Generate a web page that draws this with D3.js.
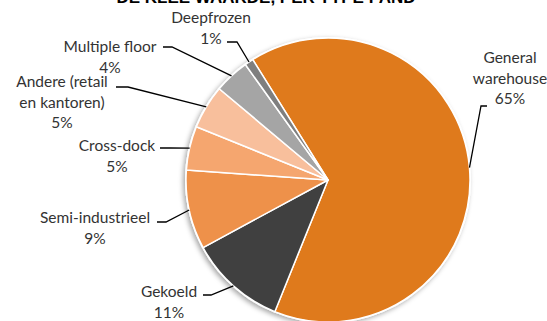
<!DOCTYPE html>
<html>
<head>
<meta charset="utf-8">
<script src="https://cdn.jsdelivr.net/npm/d3@7"></script>
<style>
    html, body { margin: 0; padding: 0; background: #fff; }
    svg { display: block; font-family: Lato, "Open Sans", sans-serif; }
</style>
</head>
<body>
<svg width="547" height="321"></svg>
<script>
// slices, clockwise from the first one
const categories = ["General warehouse", "Gekoeld", "Semi-industrieel", "Cross-dock",
    "Andere (retail en kantoren)", "Multiple floor", "Deepfrozen"];
const values = [65, 11, 9, 5, 5, 4, 1];
const labelLines = [
    ["General", "warehouse", "65%"],
    ["Gekoeld", "11%"],
    ["Semi-industrieel", "9%"],
    ["Cross-dock", "5%"],
    ["Andere (retail", "en kantoren)", "5%"],
    ["Multiple floor", "4%"],
    ["Deepfrozen", "1%"]
];
const colors = ["#DF7A1C", "#404040", "#EE914A", "#F5A66F", "#F8BF9C", "#A5A5A5", "#7F7F7F"];

const svg = d3.select("svg"),
    width = +svg.attr("width"),
    height = +svg.attr("height");

const cx = 328, cy = 180, radius = 142;
const startDeg = -32;
const lineGap = 20.5;

// label layout: text centre (x, first line y), leader start and elbow
const labelLayout = [
    {x: 510, y: 63, elbow: [481, 106], start: [487, 106]},
    {x: 169, y: 297, elbow: [211, 295], start: [203, 295]},
    {x: 95, y: 223, elbow: [166, 222], start: [157, 222]},
    {x: 117, y: 151, elbow: [170, 148], start: [160, 148]},
    {x: 62, y: 87, elbow: [128, 87], start: [116, 87]},
    {x: 110, y: 52, elbow: [172, 47], start: [163, 47]},
    {x: 211, y: 23, elbow: [237, 42], start: [227, 42]}
];

// title, mostly outside the window like in the original
svg.append("text")
    .attr("x", 266)
    .attr("y", 3)
    .attr("text-anchor", "middle")
    .style("font-family", "'Liberation Sans', Arial, sans-serif")
    .style("font-weight", "bold")
    .style("font-size", "17px")
    .style("fill", "#000")
    .text("DE KLEE WAARDE, PER TYPE PAND");

const defs = svg.append("defs");
const shadow = defs.append("filter").attr("id", "shadow")
    .attr("x", "-20%").attr("y", "-20%").attr("width", "140%").attr("height", "140%");
shadow.append("feDropShadow")
    .attr("dx", -2).attr("dy", 2).attr("stdDeviation", 2.5)
    .attr("flood-color", "#000").attr("flood-opacity", 0.35);

const pie = d3.pie()
    .sort(null)
    .value(d => d)
    .startAngle(startDeg * Math.PI / 180)
    .endAngle((startDeg + 360) * Math.PI / 180);

const arc = d3.arc().innerRadius(0).outerRadius(radius);
const arcs = pie(values);

const g = svg.append("g").attr("transform", `translate(${cx},${cy})`);

g.append("circle")
    .attr("r", radius + 1)
    .attr("fill", "#fff")
    .attr("filter", "url(#shadow)");

g.selectAll("path.slice")
    .data(arcs)
    .join("path")
    .attr("class", "slice")
    .attr("d", arc)
    .attr("fill", (d, i) => colors[i])
    .attr("stroke", "#fff")
    .attr("stroke-width", 1.5)
    .attr("stroke-linejoin", "round");

// leader lines, ending on the rim at the middle of each slice
arcs.forEach((d, i) => {
    const mid = (d.startAngle + d.endAngle) / 2;
    const ex = cx + radius * Math.sin(mid),
        ey = cy - radius * Math.cos(mid);
    const lay = labelLayout[i];
    svg.append("polyline")
        .attr("points", [lay.start, lay.elbow, [ex, ey]].map(p => p.join(",")).join(" "))
        .attr("fill", "none")
        .attr("stroke", "#000")
        .attr("stroke-width", 1.3);
});

// labels
labelLines.forEach((lines, i) => {
    const lay = labelLayout[i];
    const t = svg.append("text")
        .attr("text-anchor", "middle")
        .style("font-size", "15.5px")
        .style("fill", "#333");
    lines.forEach((line, j) => {
        t.append("tspan")
            .attr("x", lay.x)
            .attr("y", lay.y + j * lineGap)
            .text(line);
    });
});
</script>
</body>
</html>
